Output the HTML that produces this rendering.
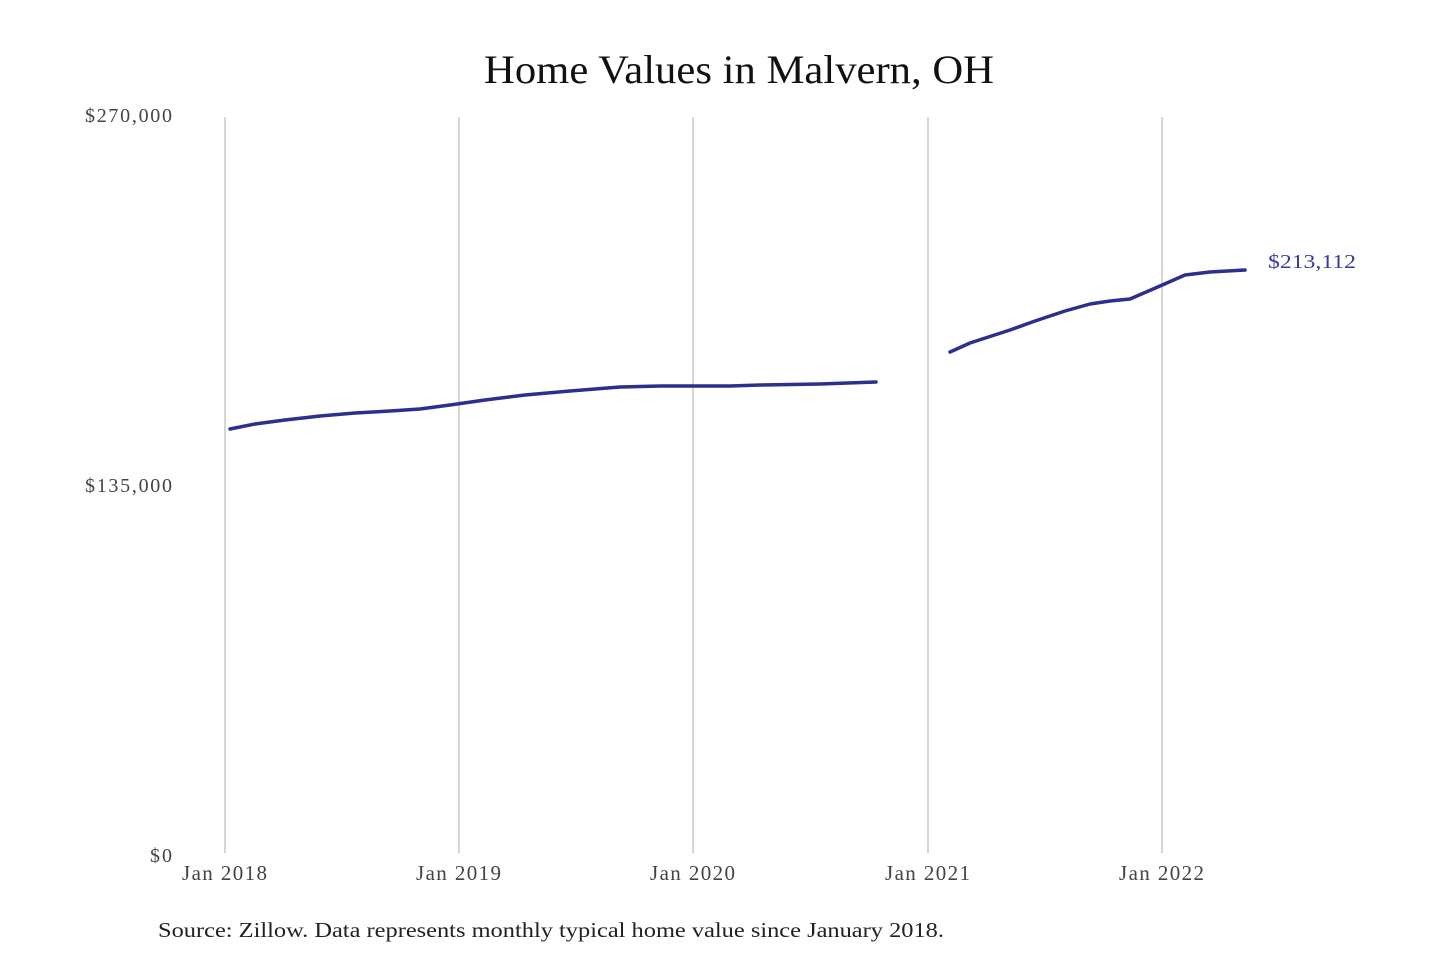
<!DOCTYPE html>
<html><head><meta charset="utf-8"><style>
html,body{margin:0;padding:0;background:#fff;}
svg{display:block;}
</style></head><body>
<svg width="1440" height="960" xmlns="http://www.w3.org/2000/svg" font-family="Liberation Serif, serif">
<rect width="1440" height="960" fill="#fff"/>
<text x="484" y="83" font-size="40" textLength="510" lengthAdjust="spacingAndGlyphs" fill="#111">Home Values in Malvern, OH</text>
<g stroke="#bbb" stroke-width="1.2">
<line x1="225" y1="117" x2="225" y2="853"/>
<line x1="459" y1="117" x2="459" y2="853"/>
<line x1="693" y1="117" x2="693" y2="853"/>
<line x1="928" y1="117" x2="928" y2="853"/>
<line x1="1162" y1="117" x2="1162" y2="853"/>
</g>
<g font-size="20" fill="#444" lengthAdjust="spacingAndGlyphs">
<text x="85" y="122" textLength="87">$270,000</text>
<text x="85" y="492" textLength="87">$135,000</text>
<text x="150" y="862" textLength="22">$0</text>
</g>
<g font-size="21" fill="#444" lengthAdjust="spacingAndGlyphs">
<text x="182" y="880" textLength="85">Jan 2018</text>
<text x="416" y="880" textLength="85">Jan 2019</text>
<text x="650" y="880" textLength="85">Jan 2020</text>
<text x="885" y="880" textLength="85">Jan 2021</text>
<text x="1119" y="880" textLength="85">Jan 2022</text>
</g>
<g fill="none" stroke="#2e2e8f" stroke-width="3.5" stroke-linejoin="round" stroke-linecap="round">
<polyline points="230,429 255,424 285,420 320,416 355,413 390,411 420,409 450,405 485,400 525,395 570,391 620,387 660,386 700,386 730,386 760,385 820,384 876,382"/>
<polyline points="950,352 970,343 1010,330 1035,321 1065,311 1090,304 1110,301 1130,299 1160,286 1185,275 1210,272 1245,270"/>
</g>
<text x="1268" y="268" font-size="20" fill="#3a3a9a" textLength="88" lengthAdjust="spacingAndGlyphs">$213,112</text>
<text x="158" y="937" font-size="21" fill="#222" textLength="786" lengthAdjust="spacingAndGlyphs">Source: Zillow. Data represents monthly typical home value since January 2018.</text>
</svg>
</body></html>
